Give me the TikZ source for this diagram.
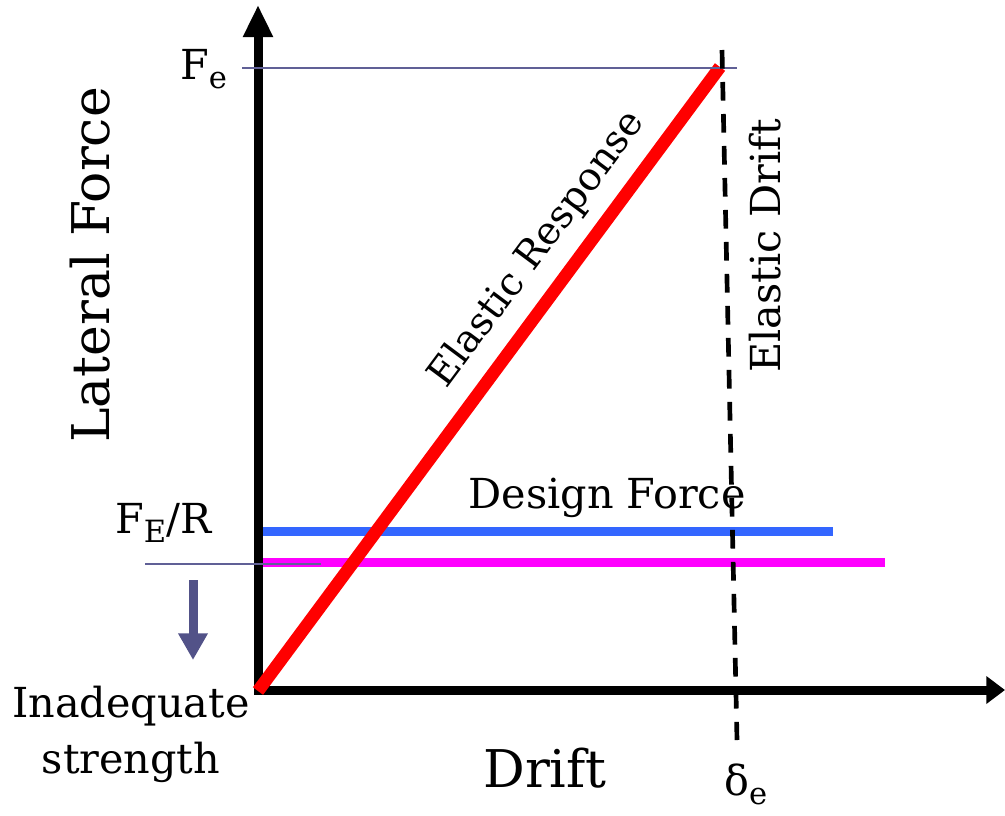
\documentclass[tikz,border=0pt]{standalone}
\usepackage{fontspec}
\setmainfont{DejaVu Serif}
\usetikzlibrary{arrows.meta}
\definecolor{guide}{RGB}{96,96,150}
\definecolor{arrowblue}{RGB}{82,82,136}
\definecolor{designblue}{RGB}{51,102,255}
\definecolor{limitpink}{RGB}{255,0,255}
\newcommand{\lowsub}[1]{\raisebox{-0.45ex}{\fontsize{23}{23}\selectfont #1}}
\begin{document}
\begin{tikzpicture}[
    x=0.75pt, y=-0.75pt,
    lbl/.style={font=\fontsize{31}{42}\selectfont, inner sep=0pt},
    bigtitle/.style={font=\fontsize{39}{46}\selectfont, inner sep=0pt},
    axis/.style={line width=6.75pt, black},
    guideline/.style={line width=1.2pt, guide},
    forceline/.style={line width=6.75pt}
]
\useasboundingbox (0,0) rectangle (1005,815);

% Coordinates
\coordinate (origin) at (258,690);
\coordinate (ytop) at (258,5);
\coordinate (ybot) at (258,694);
\coordinate (xleft) at (254,690);
\coordinate (xright) at (1005,690);
\coordinate (peak) at (720,67);
\coordinate (elastart) at (258,691);
\coordinate (dtop) at (722,50);
\coordinate (dbot) at (737,740);

% Force levels
\draw[forceline, designblue] (262,531) coordinate (bl) -- (833,531) coordinate (br);
\draw[forceline, limitpink] (262,562) coordinate (ml) -- (885,562) coordinate (mr);

% Axes
\draw[axis, -{Triangle[length=24pt, width=21pt]}] (ybot) -- (ytop);
\draw[axis, -{Triangle[length=14pt, width=20pt]}] (xleft) -- (xright);

% Elastic response
\draw[line width=9.5pt, red] (elastart) -- (peak);

% Guides
\draw[guideline] (242,68) coordinate (fel) -- (737,68) coordinate (fer);
\draw[guideline] (145,564) coordinate (frl) -- (321,564) coordinate (frr);
\draw[line width=3.5pt, dash pattern=on 14pt off 10pt] (dtop) -- (dbot);

% Down arrow
\coordinate (dnA) at (193,580);
\coordinate (dnB) at (193,660);
\draw[line width=6.75pt, arrowblue, -{Triangle[length=20pt, width=21pt]}] (dnA) -- (dnB);

% Labels
\node[bigtitle, rotate=90] (latforce) at (90,265) {Lateral Force};
\node[bigtitle, anchor=base] (drift) at (545,787) {Drift};
\node[lbl, font=\fontsize{29}{38}\selectfont, anchor=base, rotate=53.3] (elresp) at (546,256) {Elastic Response};
\node[lbl, rotate=90] (eldrift) at (765,246) {Elastic Drift};
\node[lbl, anchor=base] (design) at (607,508) {Design Force};
\node[lbl, anchor=base west] (fe) at (180,79) {F\lowsub{e}};
\node[lbl, anchor=base west] (fer) at (115,533) {F\lowsub{E}/R};
\node[lbl, anchor=base] (inad) at (131,717) {Inadequate};
\node[lbl, anchor=base] (strength) at (131,773) {strength};
\node[lbl, anchor=base west] (delta) at (724,795) {δ\lowsub{e}};

\end{tikzpicture}
\end{document}
